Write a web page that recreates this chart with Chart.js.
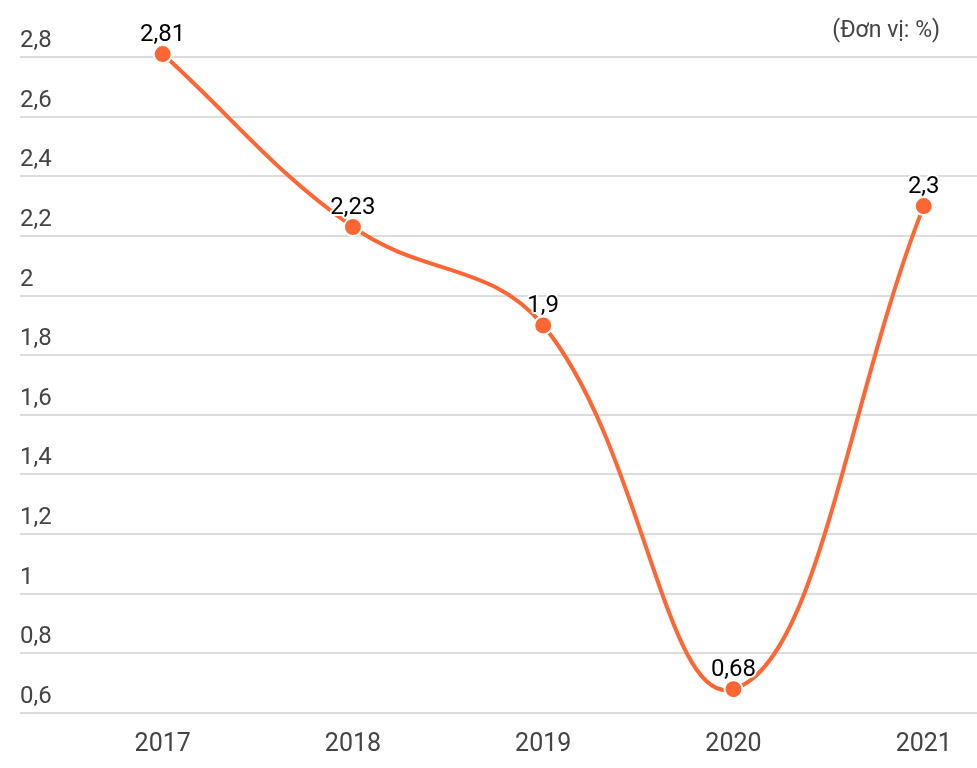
<!DOCTYPE html>
<html>
<head>
<meta charset="utf-8">
<script src="https://cdn.jsdelivr.net/npm/chart.js@4"></script>
<style>
  html, body { margin: 0; padding: 0; background: #fff; overflow: hidden; }
  #wrap { position: relative; width: 977px; height: 768px; }
  canvas { display: block; }
</style>
</head>
<body>
<div id="wrap"><canvas id="myChart"></canvas></div>
<script>
  const years = ['2017', '2018', '2019', '2020', '2021'];
  const values = [2.81, 2.23, 1.9, 0.68, 2.3];
  const yTicks = [0.6, 0.8, 1, 1.2, 1.4, 1.6, 1.8, 2, 2.2, 2.4, 2.6, 2.8];
  const unitText = '(Đơn vị: %)';

  const comma = v => String(v).replace('.', ',');

  // value labels over the points + unit note
  const labelsPlugin = {
    id: 'labels',
    afterDatasetsDraw(chart) {
      const c = chart.ctx;
      const meta = chart.getDatasetMeta(0);
      c.save();
      c.font = '24px Roboto';
      c.textAlign = 'center';
      c.textBaseline = 'middle';
      c.lineJoin = 'round';
      meta.data.forEach((pt, i) => {
        const t = comma(values[i]);
        c.strokeStyle = '#fff';
        c.lineWidth = 4;
        c.strokeText(t, pt.x, pt.y - 19);
        c.fillStyle = '#000';
        c.fillText(t, pt.x, pt.y - 19);
      });
      c.font = '23px Roboto';
      c.textAlign = 'right';
      c.fillStyle = '#444';
      c.fillText(unitText, 940, 31);
      c.restore();
    }
  };

  const ctx = document.getElementById('myChart');

  new Chart(ctx, {
    type: 'line',
    data: {
      datasets: [{
        data: values.map((v, i) => ({ x: i, y: v })),
        borderColor: '#ff6633',
        backgroundColor: '#ff6633',
        borderWidth: 4,
        tension: 0.4,
        pointRadius: 9,
        pointBorderColor: '#fff',
        pointBorderWidth: 2,
        clip: false
      }]
    },
    options: {
      responsive: true,
      maintainAspectRatio: false,
      animation: false,
      layout: { autoPadding: false, padding: { left: 20, right: 0, top: 0, bottom: 0 } },
      plugins: {
        legend: { display: false },
        tooltip: { enabled: false }
      },
      scales: {
        x: {
          type: 'linear',
          min: -0.75,
          max: 4.28,
          afterBuildTicks: axis => { axis.ticks = years.map((y, i) => ({ value: i })); },
          afterFit: axis => { axis.paddingLeft = 0; axis.paddingRight = 0; },
          grid: { display: false },
          border: { display: false },
          ticks: {
            callback: v => years[v],
            font: { family: 'Roboto', size: 25 },
            color: '#444',
            padding: 8.5,
            maxRotation: 0
          }
        },
        y: {
          min: 0.6,
          max: 2.943,
          afterBuildTicks: axis => { axis.ticks = yTicks.map(v => ({ value: v })); },
          grid: { color: '#dcdcdc', lineWidth: 2, drawTicks: false },
          border: { display: false },
          ticks: {
            mirror: true,
            padding: 0,
            labelOffset: -16,
            callback: v => comma(v),
            font: { family: 'Roboto', size: 24 },
            color: '#444'
          }
        }
      }
    },
    plugins: [labelsPlugin]
  });
</script>
</body>
</html>
